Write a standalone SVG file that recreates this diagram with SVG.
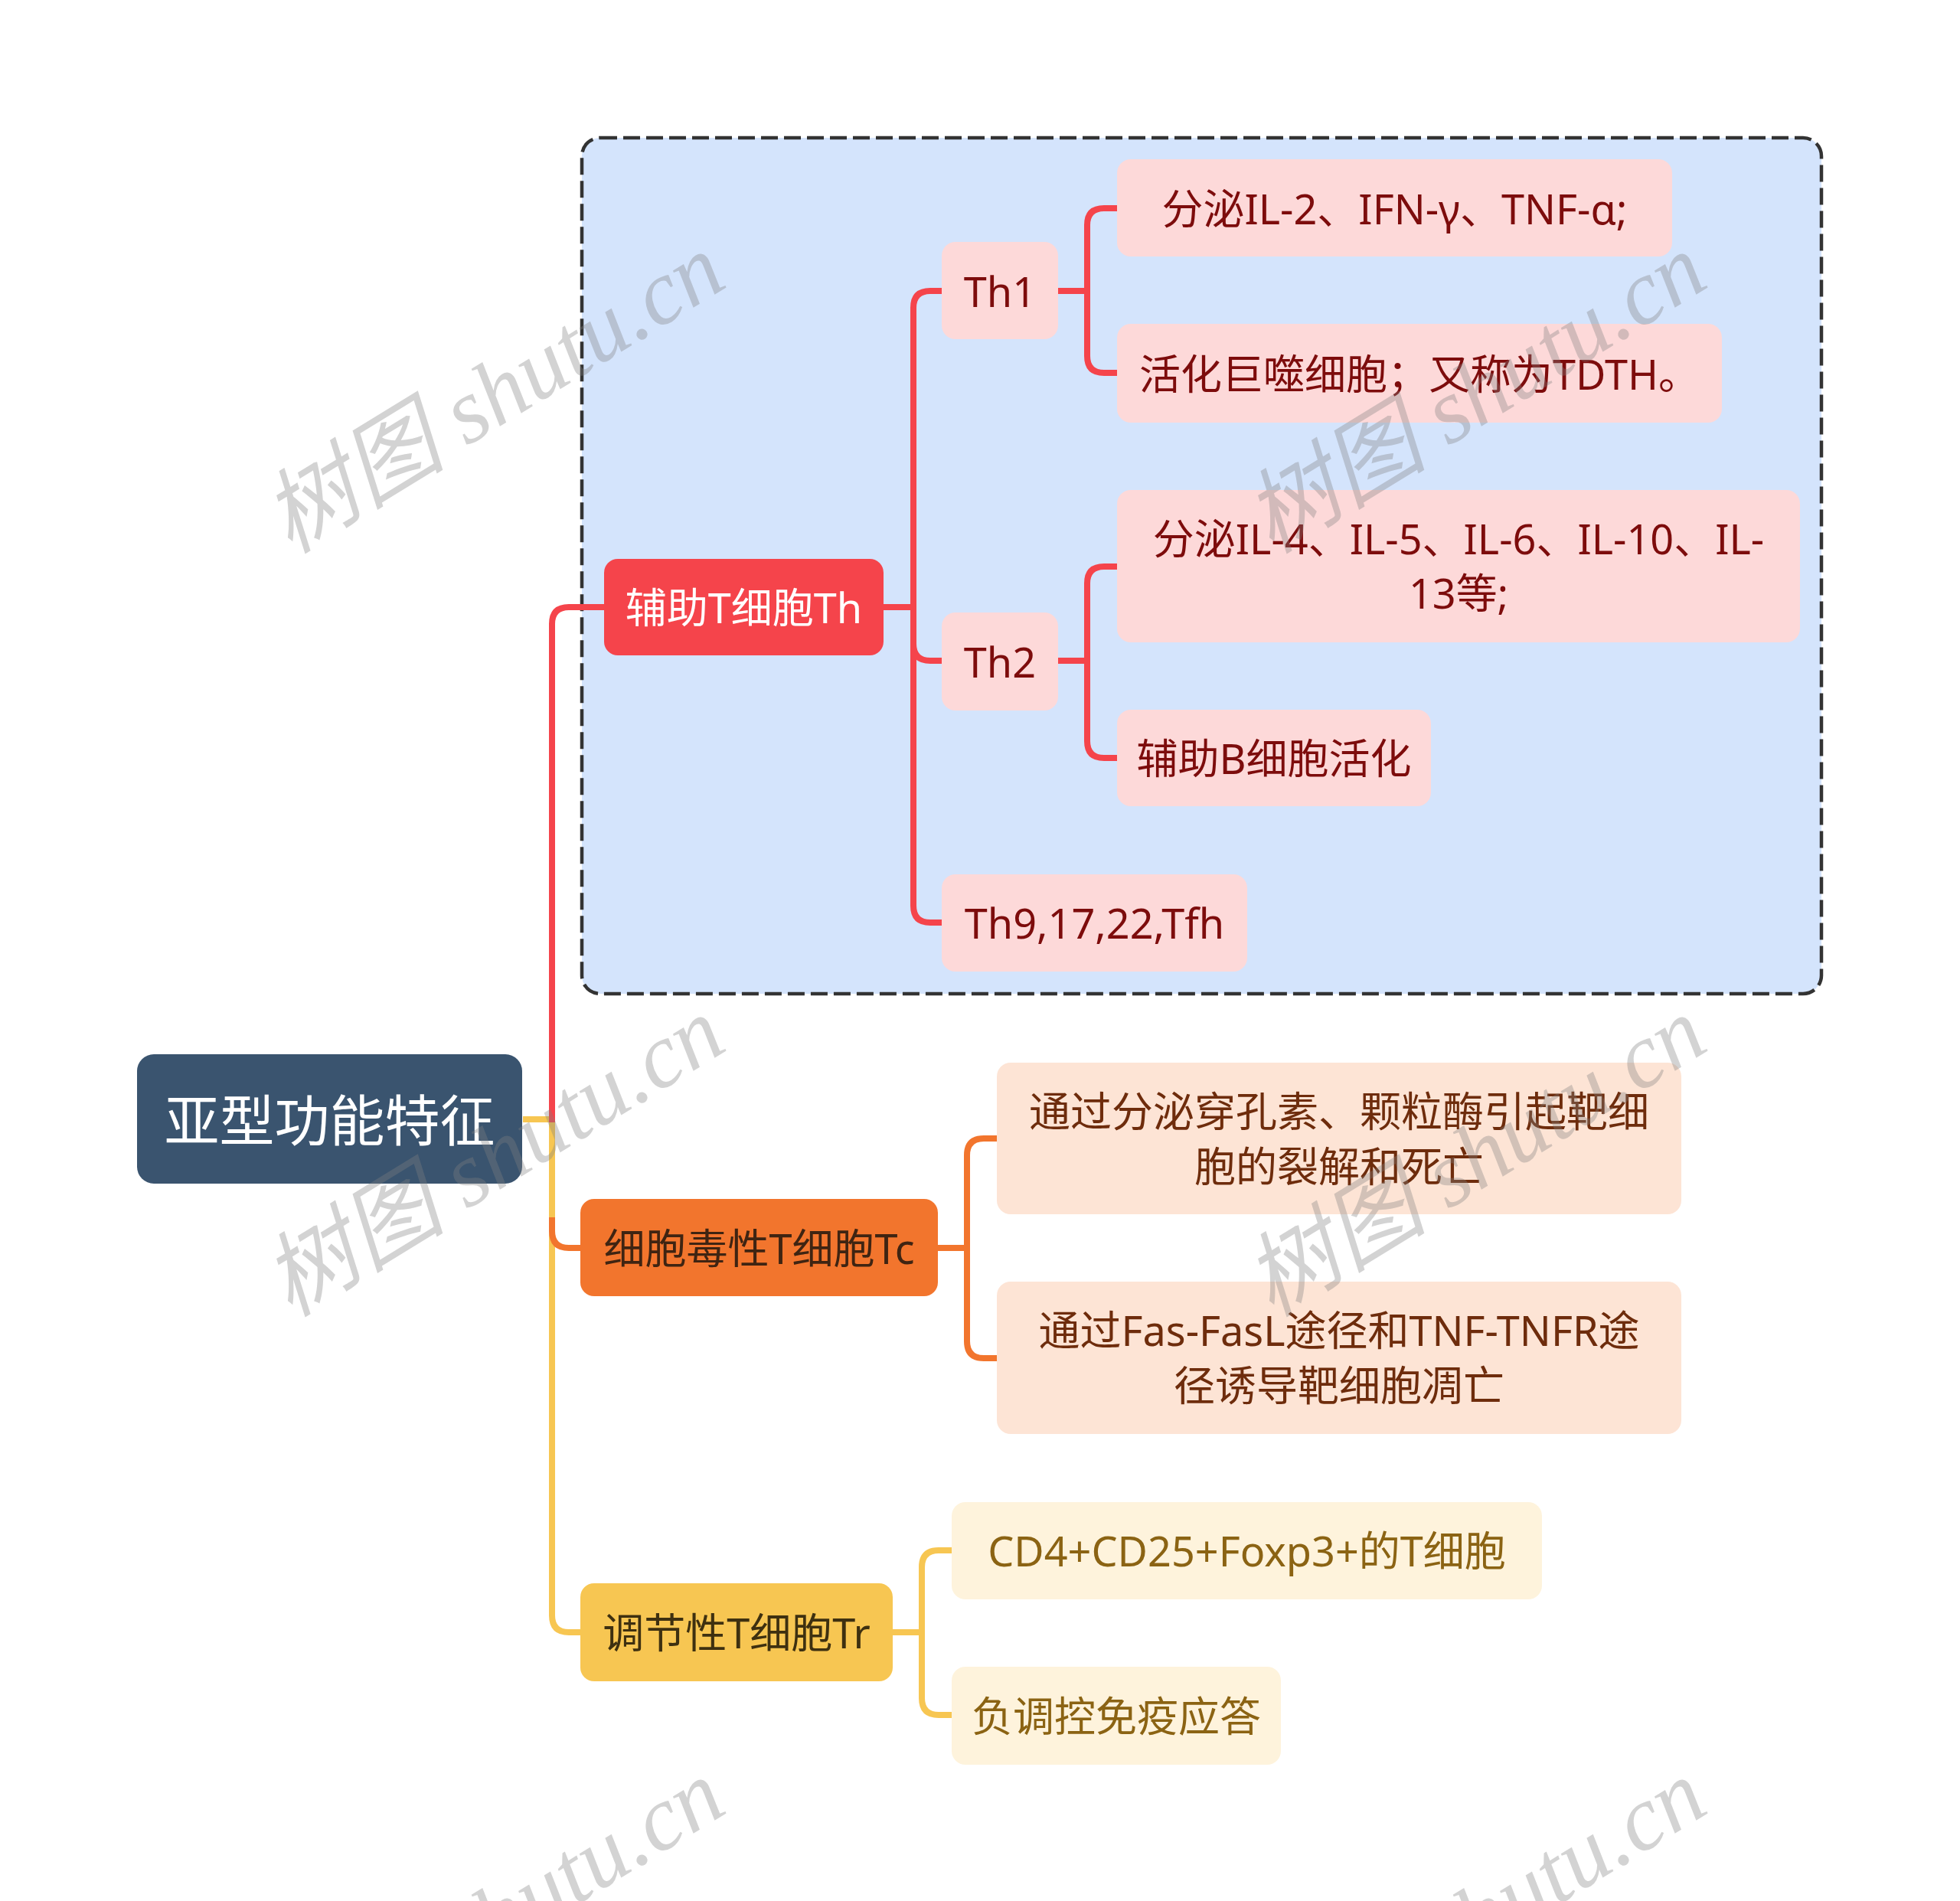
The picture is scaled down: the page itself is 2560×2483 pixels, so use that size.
<svg xmlns="http://www.w3.org/2000/svg" width="2560" height="2483" viewBox="0 0 2560 2483">
<style>
.t{font-family:"Noto Sans","Noto Sans CJK SC",sans-serif;font-size:54px;text-anchor:middle;dominant-baseline:central}
.root{font-size:72px;fill:#ffffff}
.c{fill:none;stroke-width:8;stroke-linecap:butt;stroke-linejoin:round}
.r{stroke:#f5444b}.o{stroke:#f2752d}.y{stroke:#f7c652}
.thc{fill:#fdd9d9}.tcc{fill:#fde4d5}.trc{fill:#fef3dc}
.tht{fill:#7d0c0c}.tct{fill:#6e2c0c}.trt{fill:#8b6313}
.wm{font-family:"Liberation Serif","Noto Sans CJK SC",serif;font-style:italic;font-size:120px;fill:#808080;fill-opacity:0.35;text-anchor:middle;dominant-baseline:central}
</style>
<rect width="2560" height="2483" fill="#ffffff"/>
<g id="summary-box">
<rect x="760" y="180" width="1619" height="1118" rx="24" fill="#d4e4fc" stroke="#333333" stroke-width="4.5" stroke-dasharray="22 8"/>
</g>
<g id="connectors">
<path class="c y" d="M683,1462 H721 V2110 Q721,2132 743,2132 H759"/>
<path class="c o" d="M721,1590 V1608 Q721,1630 743,1630 H759"/>
<path class="c r" d="M721,1466 V815 Q721,793 743,793 H790"/>
<path class="c r" d="M1154,793 H1193"/>
<path class="c r" d="M1193,793 V402 Q1193,380 1215,380 H1231"/>
<path class="c r" d="M1193,793 V841 Q1193,863 1215,863 H1231"/>
<path class="c r" d="M1193,793 V1183 Q1193,1205 1215,1205 H1231"/>
<path class="c r" d="M1382,380 H1420"/>
<path class="c r" d="M1420,380 V294 Q1420,272 1442,272 H1460"/>
<path class="c r" d="M1420,380 V465 Q1420,487 1442,487 H1460"/>
<path class="c r" d="M1382,863 H1420"/>
<path class="c r" d="M1420,863 V762 Q1420,740 1442,740 H1460"/>
<path class="c r" d="M1420,863 V968 Q1420,990 1442,990 H1460"/>
<path class="c o" d="M1225,1630 H1263"/>
<path class="c o" d="M1263,1630 V1509 Q1263,1487 1285,1487 H1303"/>
<path class="c o" d="M1263,1630 V1752 Q1263,1774 1285,1774 H1303"/>
<path class="c y" d="M1166,2132 H1204"/>
<path class="c y" d="M1204,2132 V2047 Q1204,2025 1226,2025 H1244"/>
<path class="c y" d="M1204,2132 V2218 Q1204,2240 1226,2240 H1244"/>
</g>
<g id="root">
<rect x="179" y="1377" width="503" height="169" rx="22" fill="#3a546f"/>
<text class="t root" x="430.5" y="1462">亚型功能特征</text>
</g>
<g id="th">
<rect x="789" y="730" width="365" height="126" rx="18" fill="#f5444b"/>
<text class="t" x="971.5" y="793" fill="#ffffff">辅助T细胞Th</text>
</g>
<g id="th1">
<rect class="thc" x="1230" y="316" width="152" height="127" rx="18"/>
<text class="t tht" x="1306" y="380">Th1</text>
</g>
<g id="th1-a">
<rect class="thc" x="1459" y="208" width="725" height="127" rx="18"/>
<text class="t tht" x="1821.5" y="272">分泌IL-2、IFN-γ、TNF-α;</text>
</g>
<g id="th1-b">
<rect class="thc" x="1459" y="423" width="790" height="129" rx="18"/>
<text class="t tht" x="1854" y="488">活化巨噬细胞；又称为TDTH。</text>
</g>
<g id="th2">
<rect class="thc" x="1230" y="800" width="152" height="128" rx="18"/>
<text class="t tht" x="1306" y="864">Th2</text>
</g>
<g id="th2-a">
<rect class="thc" x="1459" y="640" width="892" height="199" rx="18"/>
<text class="t tht" x="1905" y="703">分泌IL-4、IL-5、IL-6、IL-10、IL-</text>
<text class="t tht" x="1905" y="774">13等;</text>
</g>
<g id="th2-b">
<rect class="thc" x="1459" y="927" width="410" height="126" rx="18"/>
<text class="t tht" x="1664" y="990">辅助B细胞活化</text>
</g>
<g id="th9">
<rect class="thc" x="1230" y="1142" width="399" height="127" rx="18"/>
<text class="t tht" x="1429.5" y="1205">Th9,17,22,Tfh</text>
</g>
<g id="tc">
<rect x="758" y="1566" width="467" height="127" rx="18" fill="#f2752d"/>
<text class="t" x="991.5" y="1630" fill="#3f2412">细胞毒性T细胞Tc</text>
</g>
<g id="tc-a">
<rect class="tcc" x="1302" y="1388" width="894" height="198" rx="18"/>
<text class="t tct" x="1749" y="1451">通过分泌穿孔素、颗粒酶引起靶细</text>
<text class="t tct" x="1749" y="1523">胞的裂解和死亡</text>
</g>
<g id="tc-b">
<rect class="tcc" x="1302" y="1674" width="894" height="199" rx="18"/>
<text class="t tct" x="1749" y="1737">通过Fas-FasL途径和TNF-TNFR途</text>
<text class="t tct" x="1749" y="1809">径诱导靶细胞凋亡</text>
</g>
<g id="tr">
<rect x="758" y="2068" width="408" height="128" rx="18" fill="#f7c652"/>
<text class="t" x="962" y="2132" fill="#3e3010">调节性T细胞Tr</text>
</g>
<g id="tr-a">
<rect class="trc" x="1243" y="1962" width="771" height="127" rx="18"/>
<text class="t trt" x="1628.5" y="2025">CD4+CD25+Foxp3+的T细胞</text>
</g>
<g id="tr-b">
<rect class="trc" x="1243" y="2177" width="430" height="128" rx="18"/>
<text class="t trt" x="1458" y="2241">负调控免疫应答</text>
</g>
<g id="watermarks">
<text class="wm" transform="translate(645,514) rotate(-31.5)">树图 shutu.cn</text>
<text class="wm" transform="translate(1927,514) rotate(-31.5)">树图 shutu.cn</text>
<text class="wm" transform="translate(645,1511) rotate(-31.5)">树图 shutu.cn</text>
<text class="wm" transform="translate(1927,1511) rotate(-31.5)">树图 shutu.cn</text>
<text class="wm" transform="translate(645,2507) rotate(-31.5)">树图 shutu.cn</text>
<text class="wm" transform="translate(1927,2507) rotate(-31.5)">树图 shutu.cn</text>
</g>
</svg>
